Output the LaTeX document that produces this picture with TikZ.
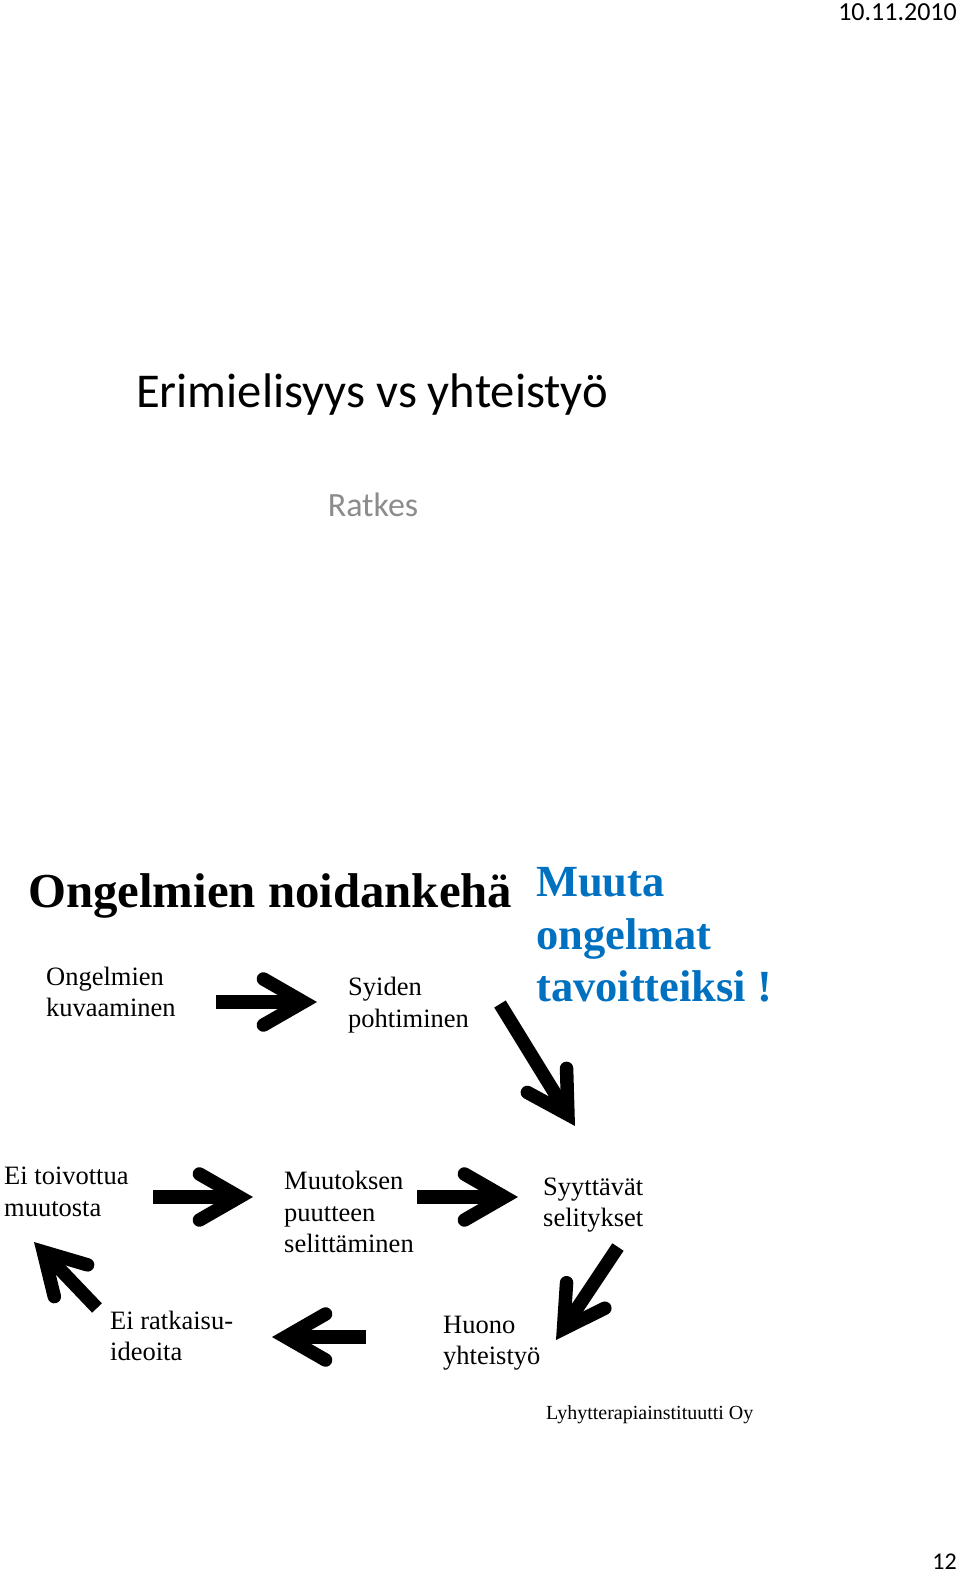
\documentclass[tikz,border=0pt]{standalone}
\usepackage{fontspec}
\setmainfont{Liberation Serif}
\newfontfamily\slidefont{Carlito}
\usetikzlibrary{arrows.meta}
\definecolor{ratkesgray}{RGB}{140,140,140}
\definecolor{goalblue}{RGB}{0,112,192}

\tikzset{
  lbl/.style={anchor=west, inner sep=0pt, align=left, font=\fontsize{26.5}{31.5}\selectfont},
  fatarrow/.style={line width=13.5pt, line cap=butt,
    -{Straight Barb[length=40pt, width=46pt, line width=13.5pt, line cap=round, line join=miter]}},
}

\begin{document}
\begin{tikzpicture}[x=1pt,y=1pt,yscale=-1,xscale=1]
\fill [white] (0,0) rectangle (960,1574);
\useasboundingbox (0,0) rectangle (960,1574);

% Text Node
\node [anchor=east, inner sep=0pt, font=\slidefont\fontsize{26}{30}\selectfont] (date) at (957,12) {10.11.2010};
% Text Node
\node [inner sep=0pt, font=\slidefont\fontsize{48.6}{56}\selectfont] (title) at (372,395) {Erimielisyys vs yhteistyö};
% Text Node
\node [inner sep=0pt, text=ratkesgray, font=\slidefont\fontsize{34}{40}\selectfont] (ratkes) at (373,505) {Ratkes};

% Text Node
\node [anchor=west, inner sep=0pt, font=\bfseries\fontsize{48.8}{56}\selectfont] (noid) at (28,896) {Ongelmien noidankehä};
% Text Node
\node [anchor=west, inner sep=0pt, align=left, text=goalblue, font=\bfseries\fontsize{44.5}{52.5}\selectfont] (goal) at (536,935) {Muuta\\ongelmat\\tavoitteiksi !};

% Text Node
\node [lbl] (kuv) at (46,992) {Ongelmien\\kuvaaminen};
% Text Node
\node [lbl] (syi) at (348,1005) {Syiden\\pohtiminen};
% Text Node
\node [lbl] (eitoiv) at (4,1192) {Ei toivottua\\muutosta};
% Text Node
\node [lbl] (selit) at (284,1212) {Muutoksen\\puutteen\\selittäminen};
% Text Node
\node [lbl] (syyt) at (543,1205) {Syyttävät\\selitykset};
% Text Node
\node [lbl] (eirat) at (110,1336) {Ei ratkaisu-\\ideoita};
% Text Node
\node [lbl] (huono) at (443,1343) {Huono\\yhteistyö};

% Text Node
\node [anchor=west, inner sep=0pt, font=\fontsize{20}{24}\selectfont] (inst) at (546,1415) {Lyhytterapiainstituutti Oy};
% Text Node
\node [anchor=east, inner sep=0pt, font=\slidefont\fontsize{24}{28}\selectfont] (page) at (957,1562) {12};

% arrow ends
\coordinate (a1s) at (216,1002);
\coordinate (a1e) at (317,1002);
\coordinate (a2s) at (500,1004);
\coordinate (a2e) at (575,1126);
\coordinate (a3s) at (153,1197);
\coordinate (a3e) at (253,1197);
\coordinate (a4s) at (417,1197);
\coordinate (a4e) at (518,1197);
\coordinate (a5s) at (618,1247);
\coordinate (a5e) at (556,1340);
\coordinate (a6s) at (366,1337);
\coordinate (a6e) at (272,1337);
\coordinate (a7s) at (97,1308);
\coordinate (a7e) at (34,1242);

%Straight Lines
\draw [fatarrow] (a1s) -- (a1e);
%Straight Lines
\draw [fatarrow] (a2s) -- (a2e);
%Straight Lines
\draw [fatarrow] (a3s) -- (a3e);
%Straight Lines
\draw [fatarrow] (a4s) -- (a4e);
%Straight Lines
\draw [fatarrow] (a5s) -- (a5e);
%Straight Lines
\draw [fatarrow] (a6s) -- (a6e);
%Straight Lines
\draw [fatarrow] (a7s) -- (a7e);

\end{tikzpicture}
\end{document}
